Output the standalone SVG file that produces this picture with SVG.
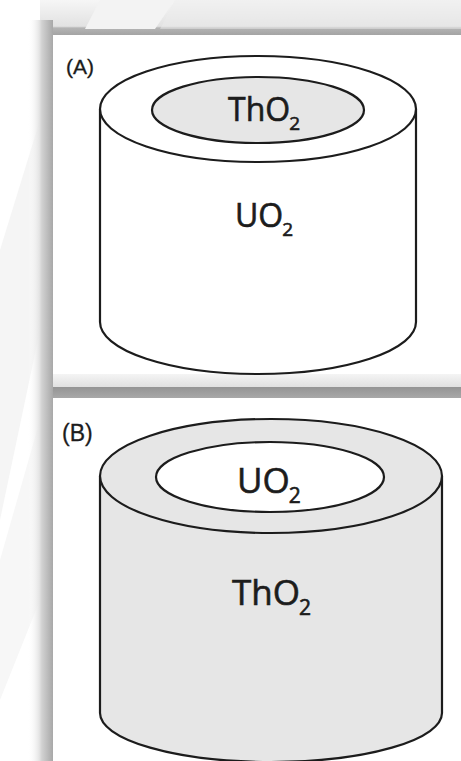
<svg xmlns="http://www.w3.org/2000/svg" width="461" height="761" viewBox="0 0 461 761">
  <defs>
    <style>
      .edge { stroke: #1c1c1c; stroke-width: 2.2; stroke-linejoin: round; }
      .pale { fill: #e6e6e6; }
      .blank { fill: #ffffff; }
      .chem { font-family: "Open Sans", "Noto Sans", sans-serif; fill: #1c1c1c; stroke: #1c1c1c; stroke-width: 0.6; }
      .tag { font-family: "Liberation Sans", Arial, sans-serif; fill: #1c1c1c; stroke: #1c1c1c; stroke-width: 0.3; }
    </style>
    <linearGradient id="topShade" x1="0" y1="0" x2="0" y2="1">
      <stop offset="0" stop-color="#f6f6f6"/>
      <stop offset="0.75" stop-color="#e2e2e2"/>
      <stop offset="0.8" stop-color="#b4b4b4"/>
      <stop offset="1" stop-color="#a4a4a4"/>
    </linearGradient>
    <linearGradient id="leftShade" x1="0" y1="0" x2="1" y2="0">
      <stop offset="0" stop-color="#ffffff" stop-opacity="0"/>
      <stop offset="0.45" stop-color="#e4e4e4"/>
      <stop offset="0.55" stop-color="#d2d2d2"/>
      <stop offset="1" stop-color="#a8a8a8"/>
    </linearGradient>
    <linearGradient id="midShade" x1="0" y1="0" x2="0" y2="1">
      <stop offset="0" stop-color="#f4f4f4"/>
      <stop offset="0.55" stop-color="#e0e0e0"/>
      <stop offset="0.56" stop-color="#959595"/>
      <stop offset="1" stop-color="#a8a8a8"/>
    </linearGradient>
  </defs>

  <rect width="461" height="761" fill="#ffffff"/>

  <!-- faint backdrop stripes -->
  <g id="backdrop">
    <polygon points="0,250 40,120 40,330 0,520" fill="#f5f5f5"/>
    <polygon points="0,560 40,420 40,600 0,700" fill="#f7f7f7"/>
  </g>

  <!-- panel frames -->
  <g id="frames">
    <rect x="40" y="0" width="421" height="35" fill="url(#topShade)"/>
    <polygon points="100,0 175,0 155,29 85,29" fill="#f3f3f3"/>
    <polygon points="175,0 520,0 520,29 160,29" fill="#ebebeb" opacity="0.5"/>
    <rect x="28" y="20" width="25" height="741" fill="url(#leftShade)"/>
    <rect x="53" y="374" width="408" height="24" fill="url(#midShade)"/>
    <rect x="53" y="35" width="408" height="339" fill="#ffffff"/>
    <rect x="53" y="398" width="408" height="363" fill="#ffffff"/>
  </g>

  <!-- panel A: ThO2 core inside a UO2 pellet -->
  <g id="pelletA">
    <path class="edge blank" d="M100,109 L100,322 A158,52 0 0 0 416,322 L416,109 Z"/>
    <ellipse class="edge blank" cx="258" cy="109" rx="158" ry="53"/>
    <ellipse class="edge pale" cx="258" cy="110" rx="106" ry="33"/>
    <text class="tag" x="66" y="74" font-size="21">(A)</text>
    <text class="chem" x="228" y="121" font-size="32">ThO<tspan font-size="19" dx="-1" dy="9">2</tspan></text>
    <text class="chem" x="235" y="227" font-size="32">UO<tspan font-size="19" dx="-1" dy="9">2</tspan></text>
  </g>

  <!-- panel B: UO2 core inside a ThO2 pellet -->
  <g id="pelletB">
    <path class="edge pale" d="M100,476 L100,713 A171,49 0 0 0 442,713 L442,476 Z"/>
    <ellipse class="edge pale" cx="271" cy="476" rx="171" ry="57"/>
    <ellipse class="edge blank" cx="270" cy="477" rx="114" ry="35"/>
    <text class="tag" x="62" y="441" font-size="23">(B)</text>
    <text class="chem" x="237" y="493" font-size="35">UO<tspan font-size="21" dx="-1" dy="10">2</tspan></text>
    <text class="chem" x="232" y="605" font-size="35">ThO<tspan font-size="21" dx="-1" dy="10">2</tspan></text>
  </g>
</svg>
